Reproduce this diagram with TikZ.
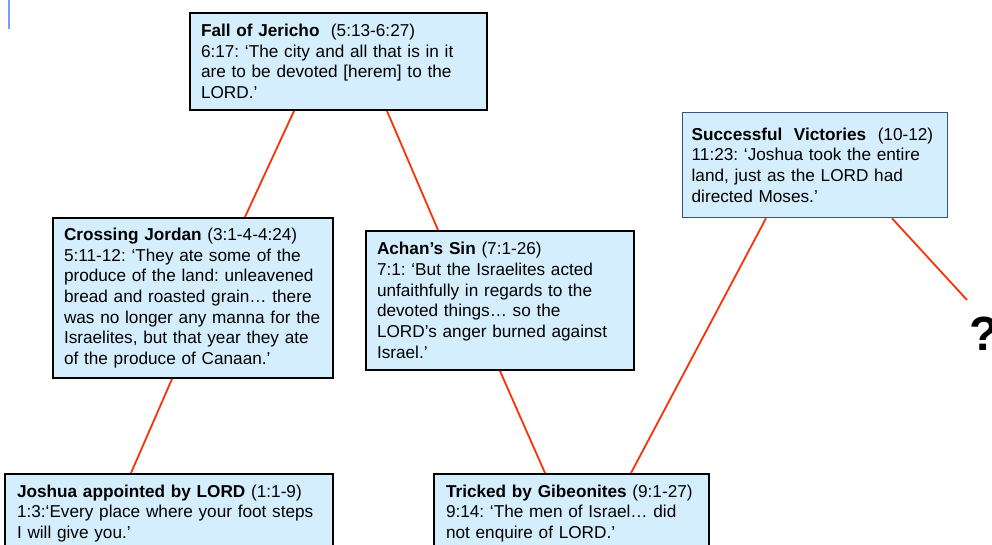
\documentclass[tikz,border=0pt]{standalone}
\usepackage{fontspec}
\setmainfont{Liberation Sans}
\usetikzlibrary{calc}
\definecolor{boxfill}{RGB}{213,238,253}
\definecolor{linkred}{RGB}{250,50,10}
\definecolor{vicborder}{RGB}{52,84,130}
\definecolor{markblue}{RGB}{120,155,255}
\frenchspacing
\begin{document}
\frenchspacing
\begin{tikzpicture}[x=1pt,y=-1pt,
  box/.style={draw=black, line width=2pt, fill=boxfill, rectangle, anchor=north west,
    align=left, inner ysep=0pt, font=\fontsize{17.2}{20.7}\selectfont},
  link/.style={draw=linkred, line width=1.8pt}]
\useasboundingbox (0,0) rectangle (992,545);
\clip (0,0) rectangle (992,545);
\draw[markblue, line width=2.5pt] (9,0) -- (9,29);

\node[box, inner xsep=11pt, text width=275pt, minimum width=297pt, minimum height=97pt] (jericho) at (189,12)
  {\textbf{Fall of Jericho}\ \ (5:13-6:27)\\6:17: ‘The city and all that is in it\\are to be devoted [herem] to the\\LORD.’};
\node[box, inner xsep=11pt, text width=258pt, minimum width=280pt, minimum height=160pt] (jordan) at (52,217)
  {\textbf{Crossing Jordan} (3:1-4-4:24)\\5:11-12: ‘They ate some of the\\produce of the land: unleavened\\bread and roasted grain… there\\was no longer any manna for the\\Israelites, but that year they ate\\of the produce of Canaan.’};
\node[box, inner xsep=11pt, text width=246pt, minimum width=268pt, minimum height=139pt] (achan) at (365,230)
  {\textbf{Achan’s Sin} (7:1-26)\\7:1: ‘But the Israelites acted\\unfaithfully in regards to the\\devoted things… so the\\LORD’s anger burned against\\Israel.’};
\node[box, draw=vicborder, line width=1.3pt, inner xsep=9pt, text width=247pt, minimum width=265pt, minimum height=105pt] (victories) at (682,112)
  {\textbf{Successful\ \ Victories}\ \ (10-12)\\11:23: ‘Joshua took the entire\\land, just as the LORD had\\directed Moses.’};
\node[box, inner xsep=12pt, text width=304pt, minimum width=328pt, minimum height=79pt] (joshua) at (4,473)
  {\textbf{Joshua appointed by LORD} (1:1-9)\\1:3:‘Every place where your foot steps\\I will give you.’};
\node[box, inner xsep=12pt, text width=251pt, minimum width=275pt, minimum height=79pt] (gibeon) at (433,473)
  {\textbf{Tricked by Gibeonites} (9:1-27)\\9:14: ‘The men of Israel… did\\not enquire of LORD.’};

\node[font=\fontsize{48}{48}\bfseries\selectfont, anchor=base west, inner sep=0pt] (q) at (969,350) {?};
\coordinate (qend) at (967,300);

\draw[link] ($(jericho.south west)+(105,0)$) -- ($(jordan.north west)+(193,0)$);
\draw[link] ($(jericho.south west)+(198,0)$) -- ($(achan.north west)+(73,0)$);
\draw[link] ($(jordan.south west)+(120,0)$) -- ($(joshua.north west)+(127,0)$);
\draw[link] ($(achan.south west)+(135,0)$) -- ($(gibeon.north west)+(112,0)$);
\draw[link] ($(gibeon.north west)+(198,0)$) -- ($(victories.south west)+(84,0)$);
\draw[link] ($(victories.south west)+(210,0)$) -- (qend);
\end{tikzpicture}
\end{document}
